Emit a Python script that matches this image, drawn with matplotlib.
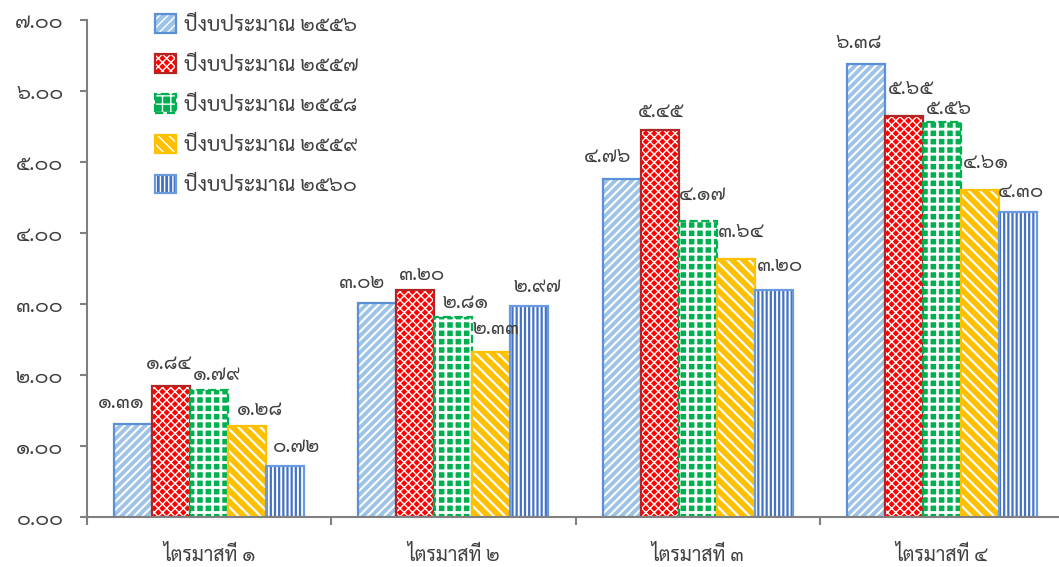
import matplotlib
matplotlib.use('Agg')
import matplotlib.pyplot as plt
from matplotlib.patches import Patch
import numpy as np

plt.rcParams['font.family'] = ['Sarabun', 'Noto Sans Thai', 'DejaVu Sans']

# ข้อมูล
quarters = ['ไตรมาสที่ ๑', 'ไตรมาสที่ ๒', 'ไตรมาสที่ ๓', 'ไตรมาสที่ ๔']
years = ['ปีงบประมาณ ๒๕๕๖', 'ปีงบประมาณ ๒๕๕๗', 'ปีงบประมาณ ๒๕๕๘',
         'ปีงบประมาณ ๒๕๕๙', 'ปีงบประมาณ ๒๕๖๐']
y2556 = [1.31, 3.02, 4.76, 6.38]
y2557 = [1.84, 3.20, 5.45, 5.65]
y2558 = [1.79, 2.81, 4.17, 5.56]
y2559 = [1.28, 2.33, 3.64, 4.61]
y2560 = [0.72, 2.97, 3.20, 4.30]
series = [y2556, y2557, y2558, y2559, y2560]

# สี / ลาย
face_colors = ['#9dc3e6', '#ff0000', '#00b050', '#ffc000', '#4472c4']
edge_colors = ['#5b8fd6', '#b02525', '#00b050', '#ffc000', '#6a9be0']
edge_styles = ['-', '-', '--', '-', '-']
hatches = ['////', 'xxxx', '++', '\\\\\\', '||||']
hatch_lw = [1.5, 1.0, 2.0, 1.6, 1.4]

# ตำแหน่งป้ายตัวเลข (เลื่อนจากกึ่งกลางยอดแท่ง, px) แบบที่ excel จัดไว้
label_dx = [[-12, -15, -14, -7], [-2, 7, 1, 7], [8, 12, 5, 7], [13, 5, 5, 6], [11, 8, 6, 3]]
label_dy = [[21, 20, 22, 21], [23, 15, 18, 27], [15, 14, 26, 13], [16, 23, 27, 27], [19, 19, 24, 20]]

thai_digits = str.maketrans('0123456789', '๐๑๒๓๔๕๖๗๘๙')


def to_thai(s):
    return s.translate(thai_digits)


fig = plt.figure(figsize=(10.59, 5.67), dpi=100)
ax = fig.add_axes([87 / 1059, 1 - 517 / 567, 977 / 1059, 497 / 567])

x = np.arange(len(quarters))
width = 0.1556
handles = []
for i, vals in enumerate(series):
    pos = x + (i - 2) * width
    with plt.rc_context({'hatch.linewidth': hatch_lw[i]}):
        ax.bar(pos, vals, width, color=face_colors[i], edgecolor='white',
               hatch=hatches[i], linewidth=0)
        fill_h = Patch(facecolor=face_colors[i], edgecolor='white', hatch=hatches[i], linewidth=0)
    ax.bar(pos, vals, width, fill=False, edgecolor=edge_colors[i], linewidth=1.6,
           linestyle=edge_styles[i])
    for j, (px, v) in enumerate(zip(pos, vals)):
        ax.annotate(to_thai('%.2f' % v), (px, v),
                    xytext=(label_dx[i][j] * 0.72, label_dy[i][j] * 0.72),
                    textcoords='offset points', ha='center', va='center',
                    fontsize=14.5, color='#404040')
    handles.append((fill_h, Patch(fill=False, edgecolor=edge_colors[i], linewidth=1.6,
                                  linestyle=edge_styles[i])))

ax.set_ylim(0, 7)
ax.set_xlim(-0.5, 3.5)
ax.set_yticks(np.arange(0, 8, 1))
ax.set_yticklabels([to_thai('%.2f' % t) for t in np.arange(0, 8, 1)], fontsize=15, color='#404040')
ax.set_xticks(x)
ax.set_xticklabels(quarters, fontsize=14, color='#404040')
ax.set_xticks(np.arange(-0.5, 4, 1), minor=True)
ax.tick_params(axis='x', which='major', length=0, pad=20)
ax.tick_params(axis='x', which='minor', length=6, width=1.5, color='#808080', direction='out')
ax.tick_params(axis='y', length=5, width=1.5, color='#808080', pad=12)

for s in ['top', 'right']:
    ax.spines[s].set_visible(False)
for s in ['left', 'bottom']:
    ax.spines[s].set_color('#808080')
    ax.spines[s].set_linewidth(1.5)

ax.legend(handles, years, loc='upper left', bbox_to_anchor=(155 / 1059, 1 - 14 / 567),
          bbox_transform=fig.transFigure, frameon=False, fontsize=15,
          handlelength=1.0, handleheight=1.0, handletextpad=0.4, labelspacing=0.9,
          labelcolor='#404040', borderpad=0, borderaxespad=0)

fig.savefig('out.png', dpi=100)
